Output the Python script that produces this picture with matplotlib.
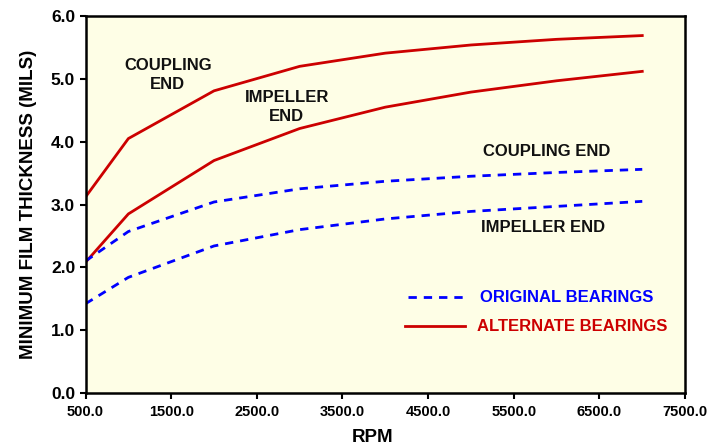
import matplotlib
matplotlib.use('Agg')
import matplotlib.pyplot as plt

# ── DATA ─────────────────────────────────────
rpm = [500, 1000, 2000, 3000, 4000, 5000, 6000, 7000]
alt_coupling = [3.12, 4.05, 4.81, 5.20, 5.41, 5.54, 5.63, 5.69]
alt_impeller = [2.08, 2.85, 3.70, 4.21, 4.55, 4.79, 4.97, 5.12]
orig_coupling = [2.10, 2.57, 3.04, 3.25, 3.37, 3.45, 3.51, 3.56]
orig_impeller = [1.42, 1.84, 2.34, 2.60, 2.77, 2.89, 2.97, 3.05]

x_ticks = [500, 1500, 2500, 3500, 4500, 5500, 6500, 7500]
y_ticks = [0, 1, 2, 3, 4, 5, 6]

RED = "#cc0000"
BLUE = "#0000ff"
BG = "#fefee6"

plt.rcParams['font.family'] = ['Liberation Sans', 'DejaVu Sans']

fig = plt.figure(figsize=(7.07, 4.47), dpi=100)
ax = fig.add_axes([0.121, 0.121, 0.848, 0.843])
ax.set_facecolor(BG)

dash = (0, (3, 2.5))
ax.plot(rpm, alt_coupling, color=RED, lw=2)
ax.plot(rpm, alt_impeller, color=RED, lw=2)
ax.plot(rpm, orig_coupling, color=BLUE, lw=2, linestyle=dash)
ax.plot(rpm, orig_impeller, color=BLUE, lw=2, linestyle=dash)

ax.set_xlim(500, 7500)
ax.set_ylim(0, 6)
ax.set_xticks(x_ticks)
ax.set_xticklabels([f"{v:.1f}" for v in x_ticks], fontsize=10.5, fontweight='bold')
ax.set_yticks(y_ticks)
ax.set_yticklabels([f"{v:.1f}" for v in y_ticks], fontsize=12.5, fontweight='bold')
ax.tick_params(direction='out', length=4, width=1.5, color='black')
ax.tick_params(axis='x', pad=5)

for spine in ax.spines.values():
    spine.set_linewidth(1.8)
    spine.set_color('black')

ax.set_ylabel('MINIMUM FILM THICKNESS (MILS)', fontsize=13.5, fontweight='bold', labelpad=10)
fig.text(373 / 707, 1 - 438 / 447, 'RPM', fontsize=13.5, fontweight='bold', ha='center', va='center')

# curve labels
lab = dict(fontsize=12, fontweight='bold', ha='center', va='center', color='#111111')
ax.text(1460, 5.06, 'COUPLING\nEND', linespacing=1.3, **lab)
ax.text(2850, 4.55, 'IMPELLER\nEND', linespacing=1.3, **lab)
ax.text(5880, 3.84, 'COUPLING END', **lab)
ax.text(5840, 2.63, 'IMPELLER END', **lab)

# legend drawn by hand like the original
ax.plot([4263, 4928], [1.52, 1.52], color=BLUE, lw=2, linestyle=dash)
ax.plot([4230, 4928], [1.06, 1.06], color=RED, lw=2)
ax.text(5110, 1.52, 'ORIGINAL BEARINGS', fontsize=12, fontweight='bold', color=BLUE, va='center')
ax.text(5075, 1.06, 'ALTERNATE BEARINGS', fontsize=12, fontweight='bold', color=RED, va='center')

fig.savefig('out.png', dpi=100, facecolor='white')
